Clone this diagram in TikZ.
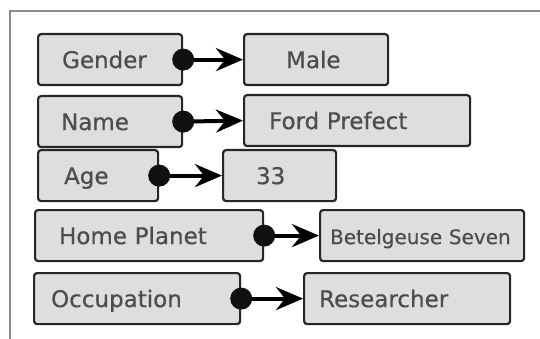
\documentclass[tikz,border=0pt]{standalone}
\usepackage{fontspec}
\setmainfont{DejaVu Sans}
\newfontfamily\fieldfont[FakeBold=0.5]{DejaVu Sans}
\usetikzlibrary{positioning,arrows.meta}
\definecolor{boxfill}{HTML}{DEDEDE}
\definecolor{boxedge}{HTML}{262626}
\definecolor{ink}{HTML}{4D4D4D}
\definecolor{pin}{HTML}{111111}
\definecolor{framegray}{HTML}{8C8C8C}

\begin{document}
\begin{tikzpicture}[
    x=1pt, y=-1pt,
    field/.style={
        draw=boxedge,
        fill=boxfill,
        line width=2.2pt,
        rounded corners=3pt,
        anchor=north west,
        minimum height=51pt,
        text height=17pt,
        text depth=0pt,
        align=left,
        text=ink,
        font=\fieldfont\fontsize{23}{26}\selectfont
    },
    link/.style={-{Stealth[length=27pt,width=23pt,inset=9pt]}, line width=4pt, pin},
    knob/.style={fill=pin}
]
\useasboundingbox (0,0) rectangle (540,339);

% ============================================================
% RAMKA
% ============================================================
\draw[framegray, line width=2pt] (10,339) -- (10,11) -- (540,11);

% ============================================================
% POLA I WARTOSCI
% ============================================================
\node[field, minimum width=144pt, inner xsep=24pt, text width=96pt] (gender) at (37,33) {Gender};
\node[field, minimum width=144pt, inner xsep=42pt, text width=60pt] (genderv) at (243,33) {Male};

\node[field, minimum width=144pt, inner xsep=23pt, text width=98pt] (name) at (37,95) {Name};
\node[field, minimum width=226pt, inner xsep=25pt, text width=176pt] (namev) at (243,94) {Ford Prefect};

\node[field, minimum width=120pt, inner xsep=26pt, text width=68pt] (age) at (37,149) {Age};
\node[field, minimum width=113pt, inner xsep=33pt, text width=47pt] (agev) at (222,149) {33};

\node[field, minimum width=228pt, inner xsep=24pt, text width=180pt] (planet) at (34,209) {Home Planet};
\node[field, minimum width=204pt, inner xsep=10pt, text width=184pt,
      font=\fieldfont\fontsize{20}{24}\selectfont] (planetv) at (319,209) {Betelgeuse Seven};

\node[field, minimum width=206pt, inner xsep=17pt, text width=172pt] (job) at (33,272) {Occupation};
\node[field, minimum width=206pt, inner xsep=15pt, text width=176pt] (jobv) at (303,272) {Researcher};

% ============================================================
% STRZALKI
% ============================================================
\draw[link] (gender.east) -- (genderv.west);
\draw[link] (name.east) -- (namev.west);
\draw[link] (age.east) -- (agev.west);
\draw[link] (planet.east) -- (planetv.west);
\draw[link] (job.east) -- (jobv.west);

% kropki na poczatku strzalek
\fill[knob] (gender.east) circle (11pt);
\fill[knob] (name.east) circle (11pt);
\fill[knob] (age.east) circle (11pt);
\fill[knob] (planet.east) circle (11pt);
\fill[knob] (job.east) circle (11pt);

\end{tikzpicture}
\end{document}
